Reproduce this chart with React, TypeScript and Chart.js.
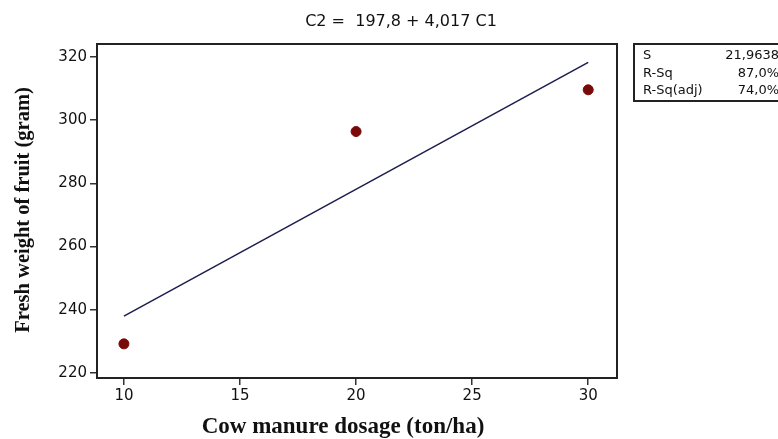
import React, { useEffect, useRef } from "react";
import { Chart, registerables } from "chart.js";

Chart.register(...registerables);

const doseX = [10, 20, 30];
const weightY = [229.2, 296.4, 309.6];
const fitX = [10, 30];
const fitY = [238.0, 318.3];
const xTicks = [10, 15, 20, 25, 30];
const yTicks = [220, 240, 260, 280, 300, 320];
const titleText = "C2 =  197,8 + 4,017 C1";
const xTitle = "Cow manure dosage (ton/ha)";
const yTitle = "Fresh weight of fruit (gram)";
const statLabels = ["S", "R-Sq", "R-Sq(adj)"];
const statValues = ["21,9638", "87,0%", "74,0%"];

const W = 778;
const H = 439;

const overlay = {
  id: "overlay",
  afterDraw(chart: any) {
    const ctx = chart.ctx as CanvasRenderingContext2D;
    const { left, top, right, bottom } = chart.chartArea;
    ctx.save();
    ctx.strokeStyle = "#222";
    ctx.lineWidth = 2;
    ctx.strokeRect(left, top, right - left, bottom - top);

    ctx.fillStyle = "#111";
    ctx.textAlign = "center";
    ctx.textBaseline = "middle";
    ctx.font = '16px "DejaVu Sans"';
    ctx.fillText(titleText, 401, 22);

    ctx.font = 'bold 23px "Liberation Serif"';
    ctx.fillText(xTitle, 343, 427);
    ctx.font = 'bold 20.5px "Liberation Serif"';
    ctx.save();
    ctx.translate(24, 210);
    ctx.rotate(-Math.PI / 2);
    ctx.fillText(yTitle, 0, 0);
    ctx.restore();

    // stats box
    ctx.lineWidth = 2;
    ctx.strokeStyle = "#222";
    ctx.strokeRect(634, 44, 160, 57);
    ctx.font = '13px "DejaVu Sans"';
    const rows = [56, 74, 91];
    statLabels.forEach((s, i) => {
      ctx.textAlign = "left";
      ctx.fillText(s, 643, rows[i]);
      ctx.textAlign = "right";
      ctx.fillText(statValues[i], 779, rows[i]);
    });
    ctx.restore();
  },
};

export default function App() {
  const ref = useRef<HTMLCanvasElement>(null);
  useEffect(() => {
    const canvas = ref.current!;
    const chart = new Chart(canvas, {
      type: "scatter",
      data: {
        datasets: [
          {
            data: doseX.map((x, i) => ({ x, y: weightY[i] })),
            backgroundColor: "#7a0a0a",
            borderColor: "#7a0a0a",
            pointRadius: 5,
            showLine: false,
          },
          {
            data: fitX.map((x, i) => ({ x, y: fitY[i] })),
            borderColor: "#1c1c4e",
            borderWidth: 1.5,
            pointRadius: 0,
            showLine: true,
          },
        ],
      },
      options: {
        animation: false,
        responsive: false,
        devicePixelRatio: 1,
        layout: { padding: { left: 0, right: 161, top: 44, bottom: 0 } },
        plugins: { legend: { display: false }, tooltip: { enabled: false }, title: { display: false } },
        scales: {
          x: {
            type: "linear",
            min: 8.84,
            max: 31.24,
            afterBuildTicks: (s: any) => {
              s.ticks = xTicks.map((v) => ({ value: v }));
            },
            afterFit: (s: any) => {
              s.height = 61;
            },
            grid: { drawOnChartArea: false, drawTicks: true, tickLength: 7, color: "#333", lineWidth: 1.5 },
            border: { display: false },
            ticks: { color: "#111", padding: 2, font: { family: "DejaVu Sans", size: 15 } },
          },
          y: {
            type: "linear",
            min: 218.4,
            max: 324.1,
            afterBuildTicks: (s: any) => {
              s.ticks = yTicks.map((v) => ({ value: v }));
            },
            afterFit: (s: any) => {
              s.width = 97;
            },
            grid: { drawOnChartArea: false, drawTicks: true, tickLength: 7, color: "#333", lineWidth: 1.5 },
            border: { display: false },
            ticks: { color: "#111", padding: 3, font: { family: "DejaVu Sans", size: 15 } },
          },
        },
      },
      plugins: [overlay],
    });
    return () => chart.destroy();
  }, []);
  return (
    <div style={{ position: "fixed", left: 0, top: 0, width: W, height: H, background: "#fff" }}>
      <canvas ref={ref} width={W} height={H} style={{ width: W, height: H, display: "block" }} />
    </div>
  );
}
